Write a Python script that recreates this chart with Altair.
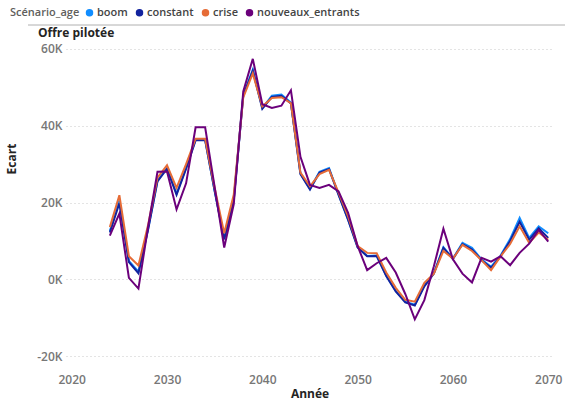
import altair as alt
import pandas as pd

years = list(range(2024, 2071))

boom = [12.6, 20.5, 4.8, 2.0, 13.0, 25.7, 29.0, 22.3, 29.0, 36.3,
        36.3, 23.0, 10.6, 20.8, 48.0, 54.6, 44.6, 47.8, 48.1, 46.0,
        27.6, 23.6, 28.0, 29.0, 22.1, 15.6, 8.4, 6.1, 6.2, 1.0,
        -3.0, -5.8, -6.6, -1.6, 1.6, 8.4, 5.4, 9.5, 8.2, 5.2,
        3.3, 6.2, 10.5, 16.0, 10.8, 13.8, 12.0]
constant = [12.2, 19.8, 4.5, 1.6, 12.8, 25.5, 28.8, 22.0, 28.8, 36.2,
            36.2, 23.0, 10.4, 20.5, 47.8, 54.3, 44.4, 47.5, 47.8, 45.8,
            27.4, 23.4, 27.8, 28.7, 22.0, 15.5, 8.3, 6.0, 6.1, 0.9,
            -3.1, -6.0, -6.8, -1.8, 1.5, 8.2, 5.3, 9.2, 7.8, 5.0,
            3.0, 6.0, 10.0, 15.0, 10.3, 13.3, 10.8]
crise = [13.6, 21.9, 6.0, 3.6, 14.0, 26.5, 29.7, 23.8, 30.0, 36.6,
         36.6, 23.8, 12.0, 22.0, 47.4, 53.6, 45.0, 47.2, 47.4, 45.9,
         27.8, 24.2, 27.4, 28.5, 22.6, 16.4, 8.7, 6.9, 6.8, 1.8,
         -2.2, -5.3, -5.8, -0.9, 1.5, 7.4, 5.4, 9.0, 7.4, 5.0,
         2.4, 6.0, 9.2, 13.8, 9.5, 12.2, 10.3]
nouveaux_entrants = [11.4, 17.1, 0.4, -2.4, 13.5, 28.0, 28.1, 18.2, 25.0, 39.6,
                     39.6, 24.0, 8.3, 19.5, 48.9, 57.4, 45.6, 44.6, 45.2, 49.2,
                     31.9, 24.6, 23.8, 24.6, 22.9, 17.3, 8.7, 2.4, 4.2, 5.6,
                     1.8, -3.8, -10.4, -5.4, 3.4, 13.2, 5.2, 1.5, -0.8, 5.6,
                     4.6, 6.0, 3.7, 6.9, 9.3, 12.9, 9.8]

scenarios = ["boom", "constant", "crise", "nouveaux_entrants"]
colors = ["#118DFF", "#12239E", "#E66C37", "#6B007B"]
x_ticks = [2020, 2030, 2040, 2050, 2060, 2070]
y_ticks = [-20000, 0, 20000, 40000, 60000]

rows = []
for name, vals in zip(scenarios, [boom, constant, crise, nouveaux_entrants]):
    for yr, v in zip(years, vals):
        rows.append({"annee": yr, "ecart": v * 1000, "scenario": name})
df = pd.DataFrame(rows)

W, H = 487, 317
FONT = "Open Sans"

color = alt.Color(
    "scenario:N",
    scale=alt.Scale(domain=scenarios, range=colors),
    legend=alt.Legend(
        orient="none", legendX=-56, legendY=-38, direction="horizontal",
        title="Scénario_age", titleOrient="left", titleFont=FONT,
        titleFontSize=11, titleFontWeight=600, titleColor="#605E5C",
        titlePadding=4, labelFont=FONT, labelFontSize=11, labelFontWeight=600,
        labelColor="#444444", symbolType="circle", symbolSize=36,
        symbolOpacity=1, columnPadding=5, labelOffset=2,
    ),
)

x = alt.X(
    "annee:Q",
    scale=alt.Scale(domain=[2019.4, 2070.5], nice=False, zero=False),
    axis=alt.Axis(
        values=x_ticks, format="d", grid=False, domain=False, ticks=False,
        labelPadding=12, labelFont=FONT, labelFontSize=12, labelFontWeight=600,
        labelColor="#777777", title="Année", titleFont=FONT, titleFontSize=12,
        titleFontWeight="bold", titleColor="#252423", titleBaseline="top",
        titleY=26,
    ),
)
y = alt.Y(
    "ecart:Q",
    scale=alt.Scale(domain=[-21500, 61000], nice=False, zero=False),
    axis=alt.Axis(
        values=y_ticks, labelExpr="(datum.value / 1000) + 'K'", domain=False,
        ticks=False, grid=True, gridDash=[1, 3], gridColor="#C8C8C8",
        gridWidth=1, labelPadding=4, labelFont=FONT, labelFontSize=12,
        labelFontWeight=600, labelColor="#777777", title="Ecart",
        titleFont=FONT, titleFontSize=12, titleFontWeight="bold",
        titleColor="#252423", titleX=-48, titleY=H / 2 - 45,
    ),
)

base = alt.Chart(df)

legend_pts = base.mark_point(filled=True, size=36, opacity=1).encode(
    x=x, y=y, color=color
).transform_filter("false")

lines = base.mark_line(strokeWidth=2).encode(
    x=x, y=y, color=color, order="annee:Q"
)

one = alt.Data(values=[{"k": 1}])
sep = alt.Chart(one).mark_rule(color="#B0B0B0", strokeWidth=1).encode(
    x=alt.value(-38), x2=alt.value(W + 12), y=alt.value(-20)
)
ttl = alt.Chart(one).mark_text(
    align="left", baseline="middle", font=FONT, fontSize=12,
    fontWeight="bold", color="#252423"
).encode(x=alt.value(-28), y=alt.value(-12), text=alt.value("Offre pilotée"))

chart = alt.layer(legend_pts, lines, sep, ttl).properties(
    width=W, height=H,
    autosize=alt.AutoSizeParams(type="none"),
    padding={"left": 66, "top": 45, "right": 12, "bottom": 36},
).configure_view(stroke=None)

chart.save("out.html", embed_options={"renderer": "svg", "actions": False})
